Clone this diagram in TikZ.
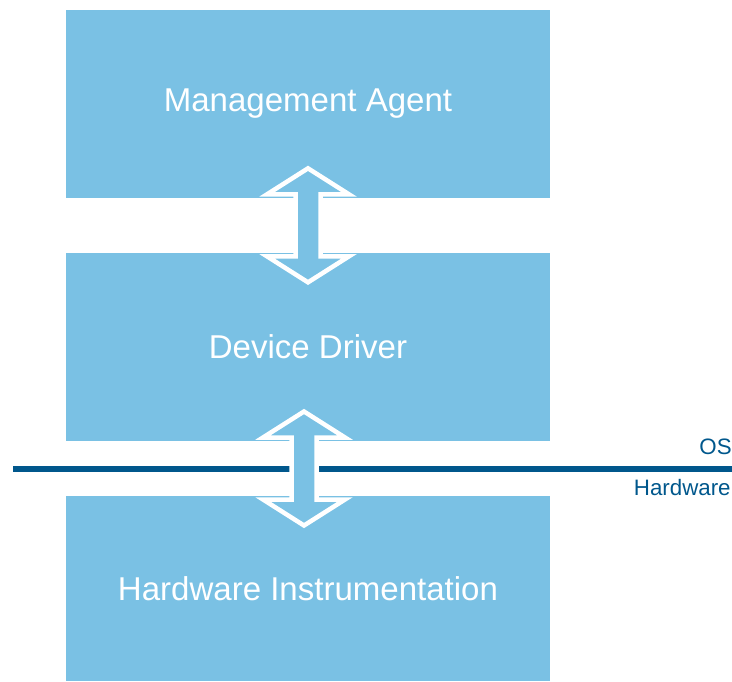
\documentclass[tikz,border=0pt]{standalone}
\usepackage{fontspec}
\setmainfont{Liberation Sans}
\usetikzlibrary{positioning,calc}
\definecolor{layerblue}{RGB}{122,193,228}
\definecolor{osblue}{RGB}{0,87,140}
\begin{document}
\begin{tikzpicture}[x=0.02cm,y=-0.02cm,line join=miter,
	layer/.style={fill=layerblue,minimum width=9.68cm,minimum height=3.76cm,inner sep=0pt,text=white,font=\fontsize{18.8}{22}\selectfont},
	seplabel/.style={inner sep=0pt,text=osblue,font=\fontsize{12.7}{15}\selectfont},
	osline/.style={draw=osblue,line width=0.12cm},
	updown/.pic={\draw[fill=layerblue,draw=white,line width=0.09cm] (0,-57) -- (41,-31) -- (12.5,-31) -- (12.5,31) -- (41,31) -- (0,57) -- (-41,31) -- (-12.5,31) -- (-12.5,-31) -- (-41,-31) -- cycle;}]
	\useasboundingbox (0,0) rectangle (732,681);
	%Ve cac lop
	\node[layer] (agent) at (308,104) {Management Agent};
	\node[layer,below=1.08cm of agent] (driver) {Device Driver};
	\node[layer,minimum height=3.7cm,below=1.1cm of driver] (hw) {Hardware Instrumentation};
	%Ve duong OS/Hardware
	\coordinate (osleft) at (13,469);
	\coordinate (osright) at (732,469);
	\draw[osline] (osleft) -- (osright);
	\node[seplabel,anchor=base east] (os) at (732,454) {OS};
	\node[seplabel,anchor=base east] (hwlabel) at (731,495) {Hardware};
	%Ve cac mui ten
	\path ($(agent.south)!0.5!(driver.north)$) pic {updown};
	\path ($(driver.south)!0.5!(hw.north)$) ++(-4,0) pic {updown};
\end{tikzpicture}
\end{document}
